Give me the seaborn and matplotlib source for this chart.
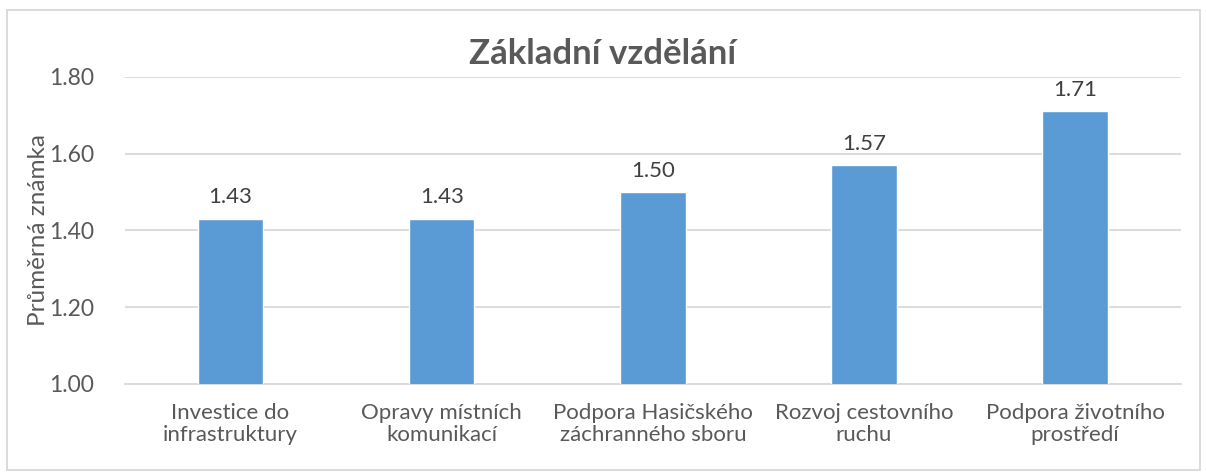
import matplotlib
matplotlib.use("Agg")
import matplotlib.pyplot as plt
import numpy as np
import pandas as pd
import seaborn as sns
from matplotlib.patches import Rectangle

# ─── DATA ────────────────────────────────────────────────────────────────
categories = [
    "Investice do\ninfrastruktury",
    "Opravy místních\nkomunikací",
    "Podpora Hasičského\nzáchranného sboru",
    "Rozvoj cestovního\nruchu",
    "Podpora životního\nprostředí",
]
values = [1.43, 1.43, 1.50, 1.57, 1.71]
yticks = [1.00, 1.20, 1.40, 1.60, 1.80]

# ─── THEME ───────────────────────────────────────────────────────────────
BAR = "#5B9BD5"
GRID = "#D9D9D9"
TXT = "#595959"
LBL = "#404040"

sns.set_style("white")
plt.rcParams["font.family"] = ["Lato", "DejaVu Sans"]

df = pd.DataFrame({"kategorie": categories, "znamka": values})

fig = plt.figure(figsize=(12.06, 4.75), dpi=100)
ax = fig.add_axes([0.1036, 0.1916, 0.8755, 0.6464])

sns.barplot(data=df, x="kategorie", y="znamka", color=BAR, width=0.31,
            saturation=1, ax=ax, zorder=3)

ax.set_ylim(1.0, 1.8)
ax.set_yticks(yticks)
ax.set_yticklabels([f"{t:.2f}" for t in yticks])
ax.yaxis.grid(True, color=GRID, linewidth=1.3, zorder=0)
ax.set_axisbelow(True)
for s in ["top", "right", "left"]:
    ax.spines[s].set_visible(False)
ax.spines["bottom"].set_color(GRID)
ax.spines["bottom"].set_linewidth(1.3)
ax.tick_params(axis="y", length=0, labelsize=16.5, colors=TXT, pad=22)
ax.tick_params(axis="x", length=0, labelsize=16, colors=TXT, pad=14)
for t in ax.get_xticklabels():
    t.set_linespacing(1.1)

for p, v in zip(ax.patches, values):
    ax.text(p.get_x() + p.get_width() / 2, v + 0.03, f"{v:.2f}",
            ha="center", va="bottom", fontsize=16, color=LBL)

ax.set_xlabel("")
ax.set_ylabel("Průměrná známka", fontsize=17.5, color=TXT)
ax.yaxis.set_label_coords(-0.072, 0.5)
fig.text(0.5, 0.887, "Základní vzdělání", ha="center", va="center",
         fontsize=25, fontweight="bold", color=TXT)

# rámeček grafu
fig.patches.append(Rectangle((7 / 1206, 5 / 475), 1193 / 1206, 460 / 475,
                             transform=fig.transFigure, fill=False,
                             edgecolor=GRID, linewidth=1.3))

fig.savefig("out.png", dpi=100, facecolor="white")
